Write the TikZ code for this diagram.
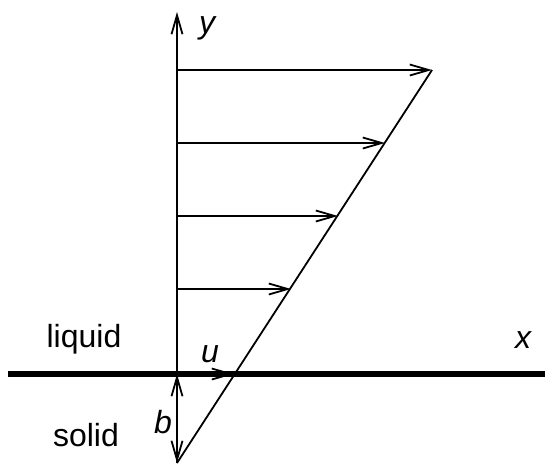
\documentclass[tikz,border=0pt]{standalone}
\usepackage{fontspec}
\setmainfont{Liberation Sans}
\usetikzlibrary{arrows.meta}

\begin{document}
\begin{tikzpicture}[
		x=1pt, y=-1pt,
		>={Straight Barb[length=19pt, width=11pt]},
		thin_line/.style={line width=1.8pt},
		wall_line/.style={line width=5.5pt},
		label_font/.style={font=\fontsize{32}{38}\selectfont, anchor=base},
		var_font/.style={font=\fontsize{32}{38}\selectfont\itshape, anchor=base}
		]
		\useasboundingbox (0,0) rectangle (545,467);
		
		% --- AXES AND WALL ---
		\coordinate (O) at (177,374);
		\coordinate (top) at (177,12);
		\coordinate (bot) at (177,463);
		\coordinate (wallL) at (8,374);
		\coordinate (wallR) at (545,374);
		\coordinate (tip) at (432,70);
		
		\draw[wall_line] (wallL) -- (wallR);
		\draw[thin_line, ->] (bot) -- (top);
		
		% Slip length b
		\draw[thin_line, <->] (O) -- (bot);
		
		% Linear profile
		\draw[thin_line] (bot) -- (tip);
		
		% --- VELOCITY ARROWS ---
		\foreach \i/\y/\x in {1/70/432, 2/143/385, 3/216/338, 4/289/291} {
			\coordinate (a\i) at (177,\y);
			\coordinate (v\i) at (\x,\y);
			\draw[thin_line, ->] (a\i) -- (v\i);
		}
		
		% Slip velocity u
		\coordinate (us) at (234,374);
		\draw[thin_line, ->] (O) -- (us);
		
		% --- LABELS ---
		\node[var_font] (ylab) at (207,33) {y};
		\node[var_font] (xlab) at (523,348) {x};
		\node[var_font] (ulab) at (210,362) {u};
		\node[var_font] (blab) at (163,433) {b};
		\node[label_font] (liquid) at (84,347) {liquid};
		\node[label_font] (solid) at (86,446) {solid};
		
	\end{tikzpicture}
\end{document}
